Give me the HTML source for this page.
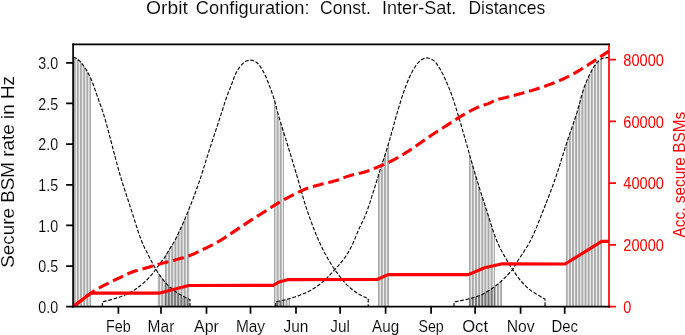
<!DOCTYPE html>
<html><head><meta charset="utf-8"><title>Orbit Configuration</title>
<style>html,body{margin:0;padding:0;background:#fff;}svg{display:block;will-change:transform;}</style>
</head><body>
<svg width="685" height="335" viewBox="0 0 685 335" font-family="'Liberation Sans', sans-serif" stroke-linejoin="round">
<rect width="685" height="335" fill="#fff"/>
<clipPath id="ax"><rect x="73.1" y="44.4" width="535.9" height="262.3"/></clipPath>
<g clip-path="url(#ax)">
<g fill="#000" fill-opacity="0.56" stroke="none">
<path d="M74.10,306.7V57.5h0.6V306.7zM75.57,306.7V58.1h0.6V306.7zM77.04,306.7V59.1h0.6V306.7zM78.50,306.7V60.2h0.6V306.7zM79.97,306.7V61.6h0.6V306.7zM81.44,306.7V63.4h0.6V306.7zM82.91,306.7V65.3h0.6V306.7zM84.38,306.7V67.3h0.6V306.7zM85.84,306.7V69.6h0.6V306.7zM87.31,306.7V72.1h0.6V306.7zM88.78,306.7V74.9h0.6V306.7zM90.25,306.7V78.0h0.6V306.7z"/>
<path d="M157.90,306.7V272.8h0.6V306.7zM159.37,306.7V275.0h0.6V306.7zM160.84,306.7V277.1h0.6V306.7zM162.30,306.7V279.1h0.6V306.7zM163.77,306.7V280.9h0.6V306.7zM165.24,306.7V282.6h0.6V306.7zM166.71,306.7V284.2h0.6V306.7zM168.18,306.7V285.6h0.6V306.7zM169.64,306.7V287.0h0.6V306.7zM171.11,306.7V288.3h0.6V306.7zM172.58,306.7V289.5h0.6V306.7zM174.05,306.7V290.6h0.6V306.7zM175.52,306.7V291.7h0.6V306.7zM176.98,306.7V292.7h0.6V306.7zM178.45,306.7V293.6h0.6V306.7zM179.92,306.7V294.5h0.6V306.7zM181.39,306.7V295.4h0.6V306.7zM182.86,306.7V296.2h0.6V306.7zM184.32,306.7V297.0h0.6V306.7zM185.79,306.7V297.8h0.6V306.7zM187.26,306.7V298.5h0.6V306.7zM188.73,306.7V299.2h0.6V306.7z"/>
<path d="M165.00,306.7V256.4h0.6V306.7zM166.47,306.7V254.0h0.6V306.7zM167.94,306.7V251.3h0.6V306.7zM169.40,306.7V248.8h0.6V306.7zM170.87,306.7V246.6h0.6V306.7zM172.34,306.7V244.3h0.6V306.7zM173.81,306.7V241.8h0.6V306.7zM175.28,306.7V239.1h0.6V306.7zM176.74,306.7V236.2h0.6V306.7zM178.21,306.7V233.2h0.6V306.7zM179.68,306.7V230.0h0.6V306.7zM181.15,306.7V226.8h0.6V306.7zM182.62,306.7V223.5h0.6V306.7zM184.08,306.7V220.1h0.6V306.7zM185.55,306.7V216.6h0.6V306.7zM187.02,306.7V213.1h0.6V306.7zM188.49,306.7V209.5h0.6V306.7z"/>
<path d="M274.20,306.7V100.3h0.6V306.7zM275.67,306.7V105.8h0.6V306.7zM277.14,306.7V111.6h0.6V306.7zM278.60,306.7V116.8h0.6V306.7zM280.07,306.7V121.7h0.6V306.7zM281.54,306.7V126.5h0.6V306.7zM283.01,306.7V131.2h0.6V306.7z"/>
<path d="M275.90,306.7V301.7h0.6V306.7zM277.37,306.7V301.5h0.6V306.7zM278.84,306.7V301.2h0.6V306.7zM280.30,306.7V300.8h0.6V306.7zM281.77,306.7V300.5h0.6V306.7zM283.24,306.7V300.2h0.6V306.7zM284.71,306.7V299.8h0.6V306.7zM286.18,306.7V299.4h0.6V306.7zM287.64,306.7V299.0h0.6V306.7zM289.11,306.7V298.6h0.6V306.7z"/>
<path d="M378.10,306.7V175.4h0.6V306.7zM379.57,306.7V170.7h0.6V306.7zM381.04,306.7V166.2h0.6V306.7zM382.50,306.7V161.7h0.6V306.7zM383.97,306.7V157.1h0.6V306.7zM385.44,306.7V152.5h0.6V306.7zM386.91,306.7V147.9h0.6V306.7zM388.38,306.7V143.1h0.6V306.7z"/>
<path d="M469.10,306.7V153.9h0.6V306.7zM470.57,306.7V159.1h0.6V306.7zM472.04,306.7V164.3h0.6V306.7zM473.50,306.7V169.4h0.6V306.7zM474.97,306.7V174.4h0.6V306.7zM476.44,306.7V179.3h0.6V306.7zM477.91,306.7V184.0h0.6V306.7zM479.38,306.7V188.7h0.6V306.7zM480.84,306.7V193.4h0.6V306.7zM482.31,306.7V197.9h0.6V306.7zM483.78,306.7V202.5h0.6V306.7zM485.25,306.7V207.0h0.6V306.7zM486.72,306.7V211.5h0.6V306.7zM488.18,306.7V216.2h0.6V306.7zM489.65,306.7V220.8h0.6V306.7zM491.12,306.7V225.5h0.6V306.7zM492.59,306.7V230.0h0.6V306.7zM494.06,306.7V234.3h0.6V306.7z"/>
<path d="M469.10,306.7V298.7h0.6V306.7zM470.57,306.7V298.4h0.6V306.7zM472.04,306.7V297.9h0.6V306.7zM473.50,306.7V297.5h0.6V306.7zM474.97,306.7V297.0h0.6V306.7zM476.44,306.7V296.5h0.6V306.7zM477.91,306.7V296.0h0.6V306.7zM479.38,306.7V295.4h0.6V306.7zM480.84,306.7V294.8h0.6V306.7zM482.31,306.7V294.1h0.6V306.7zM483.78,306.7V293.4h0.6V306.7zM485.25,306.7V292.6h0.6V306.7zM486.72,306.7V291.7h0.6V306.7zM488.18,306.7V290.8h0.6V306.7zM489.65,306.7V289.9h0.6V306.7zM491.12,306.7V288.9h0.6V306.7zM492.59,306.7V287.9h0.6V306.7zM494.06,306.7V286.8h0.6V306.7zM495.52,306.7V285.7h0.6V306.7zM496.99,306.7V284.6h0.6V306.7zM498.46,306.7V283.3h0.6V306.7zM499.93,306.7V282.1h0.6V306.7zM501.40,306.7V280.8h0.6V306.7z"/>
<path d="M566.10,306.7V143.8h0.6V306.7zM567.57,306.7V139.4h0.6V306.7zM569.04,306.7V135.1h0.6V306.7zM570.50,306.7V130.8h0.6V306.7zM571.97,306.7V126.6h0.6V306.7zM573.44,306.7V122.3h0.6V306.7zM574.91,306.7V117.9h0.6V306.7zM576.38,306.7V113.3h0.6V306.7zM577.84,306.7V108.5h0.6V306.7zM579.31,306.7V103.1h0.6V306.7zM580.78,306.7V97.6h0.6V306.7zM582.25,306.7V92.3h0.6V306.7zM583.72,306.7V87.8h0.6V306.7zM585.18,306.7V83.9h0.6V306.7zM586.65,306.7V80.3h0.6V306.7zM588.12,306.7V77.0h0.6V306.7zM589.59,306.7V74.0h0.6V306.7zM591.06,306.7V71.2h0.6V306.7zM592.52,306.7V68.5h0.6V306.7zM593.99,306.7V66.1h0.6V306.7zM595.46,306.7V64.1h0.6V306.7zM596.93,306.7V62.5h0.6V306.7zM598.40,306.7V60.9h0.6V306.7zM599.86,306.7V59.6h0.6V306.7zM601.33,306.7V58.7h0.6V306.7z"/>
</g>
<g stroke="#000" stroke-width="1.12" fill="none" stroke-dasharray="3.8 1.7">
<path d="M73.1,57.3L74.1,57.4L75.1,57.7L76.1,58.2L77.1,58.9L78.1,59.7L79.1,60.5L80.1,61.4L81.1,62.6L82.1,63.8L83.1,65.1L84.1,66.5L85.1,67.9L86.1,69.5L87.1,71.2L88.1,73.0L89.1,74.9L90.1,77.0L91.1,79.2L92.1,81.7L93.1,84.3L94.1,87.1L95.1,89.9L96.1,92.7L97.1,95.6L98.1,98.4L99.1,101.3L100.1,104.0L101.1,106.7L102.1,109.6L103.1,112.7L104.1,115.9L105.1,119.3L106.1,122.8L107.1,126.4L108.1,130.1L109.1,133.9L110.1,137.7L111.1,141.5L112.1,145.4L113.1,149.2L114.1,153.1L115.1,156.9L116.1,160.7L117.1,164.4L118.1,168.0L119.1,171.6L120.1,175.0L121.1,178.3L122.1,181.6L123.1,184.8L124.1,187.9L125.1,191.0L126.1,194.1L127.1,197.1L128.1,200.2L129.1,203.2L130.1,206.3L131.1,209.3L132.1,212.4L133.1,215.6L134.1,218.8L135.1,221.9L136.1,225.1L137.1,228.2L138.1,231.3L139.1,234.2L140.1,237.1L141.1,239.7L142.1,242.2L143.1,244.6L144.1,246.8L145.1,248.8L146.1,250.8L147.1,252.8L148.1,254.7L149.1,256.7L150.1,258.6L151.1,260.5L152.1,262.4L153.1,264.2L154.1,266.0L155.1,267.8L156.1,269.5L157.1,271.2L158.1,272.7L159.1,274.2L160.1,275.7L161.1,277.1L162.1,278.4L163.1,279.7L164.1,281.0L165.1,282.1L166.1,283.2L167.1,284.3L168.1,285.3L169.1,286.2L170.1,287.2L171.1,288.0L172.1,288.9L173.1,289.7L174.1,290.4L175.1,291.2L176.1,291.9L177.1,292.6L178.1,293.2L179.1,293.9L180.1,294.5L181.1,295.1L182.1,295.6L183.1,296.2L184.1,296.7L185.1,297.3L186.1,297.8L187.1,298.3L188.1,298.8L189.1,299.2L190.0,299.6L190.0,306.7"/>
<path d="M102.3,306.7L102.3,301.8L103.3,301.6L104.3,301.4L105.3,301.1L106.3,300.9L107.3,300.6L108.3,300.4L109.3,300.1L110.3,299.9L111.3,299.6L112.3,299.3L113.3,299.0L114.3,298.7L115.3,298.4L116.3,298.1L117.3,297.8L118.3,297.5L119.3,297.2L120.3,296.8L121.3,296.5L122.3,296.1L123.3,295.7L124.3,295.3L125.3,294.8L126.3,294.4L127.3,293.9L128.3,293.4L129.3,292.9L130.3,292.3L131.3,291.8L132.3,291.2L133.3,290.6L134.3,290.0L135.3,289.4L136.3,288.7L137.3,288.0L138.3,287.3L139.3,286.5L140.3,285.7L141.3,284.9L142.3,284.1L143.3,283.2L144.3,282.4L145.3,281.4L146.3,280.5L147.3,279.5L148.3,278.5L149.3,277.4L150.3,276.3L151.3,275.2L152.3,274.0L153.3,272.8L154.3,271.5L155.3,270.0L156.3,268.6L157.3,267.2L158.3,265.8L159.3,264.3L160.3,263.0L161.3,261.6L162.3,260.3L163.3,259.1L164.3,257.8L165.3,256.4L166.3,254.9L167.3,253.1L168.3,251.2L169.3,249.5L170.3,247.9L171.3,246.4L172.3,244.8L173.3,243.2L174.3,241.5L175.3,239.6L176.3,237.7L177.3,235.7L178.3,233.6L179.3,231.5L180.3,229.3L181.3,227.1L182.3,224.9L183.3,222.6L184.3,220.3L185.3,217.9L186.3,215.5L187.3,213.1L188.3,210.7L189.3,208.3L190.3,205.8L191.3,203.3L192.3,200.7L193.3,198.1L194.3,195.4L195.3,192.7L196.3,190.0L197.3,187.2L198.3,184.3L199.3,181.5L200.3,178.6L201.3,175.6L202.3,172.5L203.3,169.3L204.3,166.1L205.3,162.8L206.3,159.6L207.3,156.4L208.3,153.3L209.3,150.2L210.3,147.1L211.3,144.1L212.3,141.0L213.3,137.9L214.3,134.9L215.3,131.9L216.3,128.8L217.3,125.8L218.3,122.7L219.3,119.7L220.3,116.6L221.3,113.6L222.3,110.5L223.3,107.4L224.3,104.2L225.3,101.0L226.3,98.0L227.3,95.2L228.3,92.5L229.3,90.0L230.3,87.6L231.3,85.1L232.3,82.5L233.3,79.7L234.3,76.8L235.3,74.4L236.3,72.4L237.3,70.6L238.3,69.0L239.3,67.6L240.3,66.3L241.3,65.1L242.3,64.1L243.3,63.0L244.3,62.1L245.3,61.4L246.3,61.0L247.3,60.7L248.3,60.4L249.3,60.2L250.3,60.1L251.3,60.2L252.3,60.4L253.3,60.7L254.3,61.1L255.3,61.6L256.3,62.1L257.3,63.0L258.3,64.0L259.3,65.2L260.3,66.5L261.3,68.1L262.3,69.8L263.3,71.6L264.3,73.5L265.3,75.5L266.3,77.7L267.3,80.2L268.3,82.8L269.3,85.4L270.3,88.1L271.3,90.8L272.3,93.7L273.3,96.6L274.3,99.7L275.3,103.1L276.3,107.2L277.3,111.1L278.3,114.7L279.3,118.1L280.3,121.5L281.3,124.7L282.3,128.0L283.3,131.1L284.3,134.3L285.3,137.5L286.3,140.7L287.3,144.0L288.3,147.3L289.3,150.6L290.3,153.9L291.3,157.1L292.3,160.4L293.3,163.7L294.3,167.0L295.3,170.3L296.3,173.7L297.3,177.0L298.3,180.4L299.3,183.9L300.3,187.5L301.3,191.0L302.3,194.6L303.3,198.1L304.3,201.5L305.3,204.7L306.3,207.9L307.3,210.9L308.3,213.8L309.3,216.6L310.3,219.4L311.3,222.1L312.3,224.8L313.3,227.4L314.3,230.0L315.3,232.5L316.3,235.0L317.3,237.3L318.3,239.7L319.3,241.9L320.3,244.1L321.3,246.3L322.3,248.3L323.3,250.3L324.3,252.2L325.3,254.1L326.3,255.9L327.3,257.6L328.3,259.4L329.3,261.1L330.3,262.7L331.3,264.4L332.3,266.0L333.3,267.5L334.3,269.0L335.3,270.5L336.3,271.9L337.3,273.2L338.3,274.6L339.3,275.9L340.3,277.1L341.3,278.4L342.3,279.6L343.3,280.8L344.3,282.0L345.3,283.2L346.3,284.3L347.3,285.3L348.3,286.2L349.3,287.1L350.3,287.9L351.3,288.7L352.3,289.5L353.3,290.2L354.3,291.0L355.3,291.8L356.3,292.5L357.3,293.2L358.3,293.9L359.3,294.5L360.3,295.0L361.3,295.5L362.3,296.0L363.3,296.5L364.3,296.9L365.3,297.3L366.3,297.7L367.3,298.0L368.2,298.3L368.2,306.7"/>
<path d="M275.8,306.7L275.8,301.8L276.8,301.6L277.8,301.4L278.8,301.2L279.8,301.0L280.8,300.8L281.8,300.6L282.8,300.3L283.8,300.1L284.8,299.9L285.8,299.6L286.8,299.4L287.8,299.1L288.8,298.8L289.8,298.5L290.8,298.2L291.8,297.9L292.8,297.6L293.8,297.3L294.8,297.0L295.8,296.6L296.8,296.3L297.8,295.9L298.8,295.6L299.8,295.2L300.8,294.8L301.8,294.4L302.8,294.0L303.8,293.6L304.8,293.2L305.8,292.8L306.8,292.3L307.8,291.8L308.8,291.3L309.8,290.8L310.8,290.2L311.8,289.6L312.8,289.0L313.8,288.4L314.8,287.8L315.8,287.1L316.8,286.4L317.8,285.7L318.8,285.0L319.8,284.2L320.8,283.4L321.8,282.6L322.8,281.8L323.8,280.9L324.8,280.0L325.8,279.1L326.8,278.1L327.8,277.1L328.8,276.1L329.8,275.0L330.8,273.9L331.8,272.9L332.8,271.8L333.8,270.7L334.8,269.6L335.8,268.5L336.8,267.4L337.8,266.3L338.8,265.1L339.8,264.0L340.8,262.8L341.8,261.6L342.8,260.4L343.8,259.1L344.8,257.7L345.8,256.2L346.8,254.7L347.8,253.1L348.8,251.4L349.8,249.6L350.8,247.7L351.8,245.8L352.8,243.8L353.8,241.5L354.8,239.1L355.8,236.6L356.8,234.1L357.8,231.7L358.8,229.4L359.8,227.2L360.8,225.1L361.8,223.1L362.8,221.1L363.8,218.9L364.8,216.7L365.8,214.2L366.8,211.6L367.8,208.8L368.8,205.9L369.8,202.8L370.8,199.7L371.8,196.6L372.8,193.4L373.8,190.3L374.8,187.1L375.8,183.8L376.8,180.5L377.8,177.3L378.8,174.1L379.8,170.9L380.8,167.8L381.8,164.7L382.8,161.7L383.8,158.6L384.8,155.5L385.8,152.4L386.8,149.2L387.8,146.0L388.8,142.7L389.8,139.3L390.8,135.8L391.8,132.2L392.8,128.6L393.8,124.9L394.8,121.3L395.8,117.7L396.8,114.1L397.8,110.7L398.8,107.3L399.8,104.0L400.8,100.8L401.8,97.6L402.8,94.6L403.8,91.7L404.8,89.0L405.8,86.3L406.8,83.7L407.8,81.3L408.8,78.8L409.8,76.5L410.8,74.4L411.8,72.4L412.8,70.6L413.8,68.8L414.8,67.3L415.8,65.7L416.8,64.3L417.8,63.1L418.8,62.1L419.8,61.1L420.8,60.2L421.8,59.5L422.8,59.0L423.8,58.6L424.8,58.3L425.8,58.0L426.8,57.9L427.8,58.0L428.8,58.2L429.8,58.5L430.8,58.9L431.8,59.4L432.8,59.9L433.8,60.7L434.8,61.6L435.8,62.7L436.8,63.9L437.8,65.3L438.8,66.9L439.8,68.5L440.8,70.3L441.8,72.2L442.8,74.1L443.8,76.1L444.8,78.3L445.8,80.5L446.8,82.7L447.8,85.0L448.8,87.4L449.8,89.9L450.8,92.5L451.8,95.2L452.8,98.1L453.8,101.1L454.8,104.3L455.8,107.4L456.8,110.6L457.8,113.9L458.8,117.2L459.8,120.6L460.8,124.0L461.8,127.4L462.8,130.9L463.8,134.4L464.8,137.8L465.8,141.3L466.8,144.8L467.8,148.3L468.8,151.8L469.8,155.4L470.8,158.9L471.8,162.4L472.8,165.9L473.8,169.4L474.8,172.8L475.8,176.2L476.8,179.5L477.8,182.7L478.8,185.9L479.8,189.1L480.8,192.3L481.8,195.4L482.8,198.5L483.8,201.6L484.8,204.7L485.8,207.8L486.8,210.9L487.8,214.0L488.8,217.2L489.8,220.4L490.8,223.5L491.8,226.7L492.8,229.8L493.8,232.7L494.8,235.6L495.8,238.3L496.8,240.8L497.8,243.1L498.8,245.3L499.8,247.4L500.8,249.4L501.8,251.3L502.8,253.1L503.8,254.9L504.8,256.6L505.8,258.4L506.8,260.1L507.8,261.8L508.8,263.5L509.8,265.1L510.8,266.6L511.8,268.2L512.8,269.7L513.8,271.2L514.8,272.7L515.8,274.1L516.8,275.6L517.8,276.9L518.8,278.3L519.8,279.6L520.8,280.8L521.8,281.9L522.8,283.0L523.8,284.1L524.8,285.1L525.8,286.1L526.8,287.1L527.8,288.0L528.8,288.8L529.8,289.6L530.8,290.4L531.8,291.1L532.8,291.8L533.8,292.4L534.8,293.0L535.8,293.7L536.8,294.3L537.8,294.9L538.8,295.5L539.8,296.1L540.8,296.7L541.8,297.3L542.8,297.8L543.8,298.4L544.8,298.9L545.0,299.0L545.0,306.7"/>
<path d="M454.0,306.7L454.0,302.0L455.0,301.8L456.0,301.6L457.0,301.4L458.0,301.2L459.0,301.0L460.0,300.8L461.0,300.6L462.0,300.4L463.0,300.2L464.0,300.0L465.0,299.8L466.0,299.6L467.0,299.3L468.0,299.1L469.0,298.8L470.0,298.6L471.0,298.3L472.0,298.0L473.0,297.7L474.0,297.4L475.0,297.1L476.0,296.8L477.0,296.4L478.0,296.0L479.0,295.7L480.0,295.3L481.0,294.8L482.0,294.4L483.0,293.9L484.0,293.4L485.0,292.9L486.0,292.3L487.0,291.7L488.0,291.1L489.0,290.5L490.0,289.8L491.0,289.2L492.0,288.5L493.0,287.8L494.0,287.1L495.0,286.3L496.0,285.6L497.0,284.8L498.0,284.0L499.0,283.1L500.0,282.3L501.0,281.4L502.0,280.5L503.0,279.6L504.0,278.6L505.0,277.6L506.0,276.6L507.0,275.6L508.0,274.5L509.0,273.5L510.0,272.5L511.0,271.5L512.0,270.4L513.0,269.0L514.0,267.2L515.0,265.4L516.0,263.7L517.0,262.1L518.0,260.5L519.0,259.0L520.0,257.5L521.0,256.0L522.0,254.5L523.0,252.9L524.0,251.4L525.0,249.8L526.0,248.3L527.0,246.8L528.0,245.1L529.0,243.4L530.0,241.6L531.0,239.7L532.0,237.6L533.0,235.5L534.0,233.2L535.0,230.9L536.0,228.5L537.0,226.1L538.0,223.6L539.0,221.1L540.0,218.6L541.0,216.1L542.0,213.5L543.0,211.0L544.0,208.5L545.0,206.0L546.0,203.5L547.0,200.9L548.0,198.3L549.0,195.7L550.0,193.1L551.0,190.5L552.0,187.8L553.0,185.0L554.0,182.3L555.0,179.4L556.0,176.6L557.0,173.6L558.0,170.6L559.0,167.5L560.0,164.3L561.0,161.0L562.0,157.8L563.0,154.5L564.0,151.3L565.0,148.1L566.0,145.0L567.0,142.0L568.0,139.0L569.0,136.0L570.0,133.1L571.0,130.3L572.0,127.4L573.0,124.5L574.0,121.5L575.0,118.5L576.0,115.4L577.0,112.3L578.0,109.0L579.0,105.4L580.0,101.7L581.0,97.9L582.0,94.2L583.0,90.8L584.0,87.9L585.0,85.2L586.0,82.6L587.0,80.2L588.0,77.9L589.0,75.8L590.0,73.8L591.0,71.9L592.0,70.0L593.0,68.2L594.0,66.6L595.0,65.1L596.0,63.8L597.0,62.7L598.0,61.7L599.0,60.7L600.0,59.8L601.0,59.1L602.0,58.6L603.0,58.3L604.0,58.0L605.0,57.9L606.0,57.7L607.0,57.6L608.0,57.6L609.0,57.6"/>
</g>
<path d="M73.1,306.7L91.0,293.1L159.8,293.1L188.8,285.5L273.2,285.4L279.0,282.0L288.5,279.6L377.2,279.5L388.0,274.6L468.3,274.6L484.6,267.7L501.3,263.9L565.2,264.0L601.7,241.4L609.0,241.4" stroke="#ff0000" stroke-width="3.1" fill="none" stroke-linejoin="round"/>
<path d="M73.1,306.7L91.0,293.1L92.5,292.1L94.0,291.2L95.5,290.2L97.0,289.3L98.5,288.4L100.0,287.5L101.5,286.7L103.0,285.9L104.5,285.2L106.0,284.4L107.5,283.7L109.0,282.9L110.5,282.1L112.0,281.4L113.5,280.7L115.0,279.9L116.5,279.2L118.0,278.5L119.5,277.8L121.0,277.1L122.5,276.3L124.0,275.6L125.5,274.9L127.0,274.2L128.5,273.5L130.0,272.9L131.5,272.3L133.0,271.8L134.5,271.3L136.0,270.8L137.5,270.4L139.0,269.9L140.5,269.5L142.0,269.1L143.5,268.7L145.0,268.3L146.5,267.8L148.0,267.4L149.5,267.0L151.0,266.5L152.5,266.1L154.0,265.6L155.5,265.2L157.0,264.8L158.5,264.3L160.0,263.9L161.5,263.5L163.0,263.1L164.5,262.7L166.0,262.3L167.5,261.9L169.0,261.6L170.5,261.2L172.0,260.8L173.5,260.4L175.0,260.0L176.5,259.6L178.0,259.1L179.5,258.7L181.0,258.3L182.5,257.9L184.0,257.5L185.5,257.0L187.0,256.5L188.5,256.0L190.0,255.5L191.5,254.9L193.0,254.3L194.5,253.6L196.0,252.9L197.5,252.2L199.0,251.5L200.5,250.7L202.0,250.0L203.5,249.2L205.0,248.5L206.5,247.8L208.0,247.0L209.5,246.3L211.0,245.5L212.5,244.8L214.0,244.0L215.5,243.2L217.0,242.4L218.5,241.5L220.0,240.7L221.5,239.8L223.0,238.8L224.5,237.9L226.0,236.9L227.5,235.9L229.0,234.9L230.5,233.9L232.0,232.9L233.5,231.9L235.0,230.9L236.5,229.9L238.0,228.9L239.5,227.9L241.0,226.9L242.5,225.9L244.0,224.9L245.5,223.9L247.0,222.9L248.5,221.9L250.0,220.9L251.5,219.9L253.0,219.0L254.5,218.0L256.0,217.1L257.5,216.1L259.0,215.2L260.5,214.2L262.0,213.3L263.5,212.3L265.0,211.4L266.5,210.4L268.0,209.4L269.5,208.5L271.0,207.5L272.5,206.5L274.0,205.6L275.5,204.7L277.0,203.7L278.5,202.8L280.0,202.0L281.5,201.1L283.0,200.3L284.5,199.4L286.0,198.6L287.5,197.8L289.0,197.0L290.5,196.2L292.0,195.5L293.5,194.7L295.0,194.0L296.5,193.2L298.0,192.4L299.5,191.7L301.0,191.0L302.5,190.3L304.0,189.6L305.5,189.0L307.0,188.4L308.5,187.9L310.0,187.4L311.5,186.9L313.0,186.5L314.5,186.1L316.0,185.7L317.5,185.3L319.0,184.9L320.5,184.5L322.0,184.1L323.5,183.7L325.0,183.3L326.5,183.0L328.0,182.6L329.5,182.3L331.0,181.9L332.5,181.5L334.0,181.1L335.5,180.7L337.0,180.2L338.5,179.7L340.0,179.1L341.5,178.6L343.0,178.0L344.5,177.4L346.0,176.9L347.5,176.4L349.0,175.9L350.5,175.5L352.0,175.1L353.5,174.7L355.0,174.4L356.5,174.0L358.0,173.7L359.5,173.3L361.0,173.0L362.5,172.6L364.0,172.2L365.5,171.7L367.0,171.2L368.5,170.7L370.0,170.2L371.5,169.6L373.0,169.0L374.5,168.4L376.0,167.8L377.5,167.2L379.0,166.5L380.5,165.9L382.0,165.2L383.5,164.6L385.0,163.9L386.5,163.3L388.0,162.6L389.5,162.0L391.0,161.2L392.5,160.5L394.0,159.7L395.5,158.9L397.0,158.0L398.5,157.1L400.0,156.2L401.5,155.4L403.0,154.5L404.5,153.6L406.0,152.6L407.5,151.7L409.0,150.8L410.5,149.8L412.0,148.8L413.5,147.7L415.0,146.7L416.5,145.6L418.0,144.6L419.5,143.5L421.0,142.5L422.5,141.4L424.0,140.4L425.5,139.3L427.0,138.3L428.5,137.3L430.0,136.2L431.5,135.2L433.0,134.2L434.5,133.2L436.0,132.2L437.5,131.2L439.0,130.3L440.5,129.3L442.0,128.4L443.5,127.5L445.0,126.5L446.5,125.6L448.0,124.6L449.5,123.6L451.0,122.6L452.5,121.6L454.0,120.6L455.5,119.7L457.0,118.7L458.5,117.8L460.0,116.9L461.5,115.9L463.0,115.1L464.5,114.2L466.0,113.3L467.5,112.5L469.0,111.6L470.5,110.8L472.0,110.0L473.5,109.3L475.0,108.6L476.5,107.9L478.0,107.2L479.5,106.6L481.0,106.0L482.5,105.5L484.0,105.0L485.5,104.6L487.0,104.1L488.5,103.6L490.0,103.0L491.5,102.2L493.0,101.4L494.5,100.6L496.0,100.1L497.5,99.6L499.0,99.1L500.5,98.7L502.0,98.4L503.5,98.0L505.0,97.7L506.5,97.3L508.0,96.9L509.5,96.6L511.0,96.2L512.5,95.8L514.0,95.4L515.5,95.0L517.0,94.6L518.5,94.2L520.0,93.8L521.5,93.4L523.0,92.9L524.5,92.5L526.0,92.1L527.5,91.7L529.0,91.2L530.5,90.8L532.0,90.4L533.5,89.9L535.0,89.5L536.5,89.0L538.0,88.5L539.5,88.0L541.0,87.5L542.5,87.0L544.0,86.5L545.5,86.0L547.0,85.4L548.5,84.9L550.0,84.3L551.5,83.8L553.0,83.2L554.5,82.6L556.0,82.0L557.5,81.4L559.0,80.8L560.5,80.1L562.0,79.5L563.5,78.8L565.0,78.1L566.5,77.4L568.0,76.7L569.5,75.9L571.0,75.2L572.5,74.4L574.0,73.5L575.5,72.7L577.0,71.8L578.5,70.9L580.0,70.0L581.5,69.0L583.0,68.1L584.5,67.2L586.0,66.2L587.5,65.3L589.0,64.3L590.5,63.3L592.0,62.3L593.5,61.4L595.0,60.4L596.5,59.4L598.0,58.4L599.5,57.4L601.0,56.4L602.5,55.4L604.0,54.4L605.5,53.4L607.0,52.4L608.5,51.4L608.8,51.2" stroke="#ff0000" stroke-width="3.1" fill="none" stroke-dasharray="11.1 4.8" stroke-linejoin="round"/>
</g>
<g stroke="#ff0000" stroke-width="1.7" fill="none">
<path d="M609.0,307.55V43.55"/>
<path d="M609.0,306.7h6.949999999999999M609.0,244.9h6.949999999999999M609.0,183.2h6.949999999999999M609.0,121.4h6.949999999999999M609.0,59.7h6.949999999999999"/>
</g>
<g stroke="#000" stroke-width="1.7" fill="none">
<path d="M73.1,307.55V43.55"/>
<path d="M72.25,44.4H609.85"/>
<path d="M72.25,306.7H609.85"/>
<path d="M118.4,306.7v6.949999999999999M161.0,306.7v6.949999999999999M206.5,306.7v6.949999999999999M250.5,306.7v6.949999999999999M296.0,306.7v6.949999999999999M340.1,306.7v6.949999999999999M385.6,306.7v6.949999999999999M431.1,306.7v6.949999999999999M475.1,306.7v6.949999999999999M520.6,306.7v6.949999999999999M564.7,306.7v6.949999999999999"/>
<path d="M73.1,306.7h-6.949999999999999M73.1,266.1h-6.949999999999999M73.1,225.4h-6.949999999999999M73.1,184.8h-6.949999999999999M73.1,144.1h-6.949999999999999M73.1,103.4h-6.949999999999999M73.1,62.8h-6.949999999999999"/>
</g>
<g opacity="0.999">
<g font-size="15.8" fill="#000" text-anchor="middle" stroke="#fff" stroke-width="0.12">
<text x="118.4" y="332.4" textLength="24.8" lengthAdjust="spacingAndGlyphs">Feb</text>
<text x="161.0" y="332.4" textLength="26.8" lengthAdjust="spacingAndGlyphs">Mar</text>
<text x="206.5" y="332.4" textLength="24.8" lengthAdjust="spacingAndGlyphs">Apr</text>
<text x="250.5" y="332.4" textLength="29.2" lengthAdjust="spacingAndGlyphs">May</text>
<text x="296.0" y="332.4" textLength="24.9" lengthAdjust="spacingAndGlyphs">Jun</text>
<text x="340.1" y="332.4" textLength="19.6" lengthAdjust="spacingAndGlyphs">Jul</text>
<text x="385.6" y="332.4" textLength="27.1" lengthAdjust="spacingAndGlyphs">Aug</text>
<text x="431.1" y="332.4" textLength="25.3" lengthAdjust="spacingAndGlyphs">Sep</text>
<text x="475.1" y="332.4" textLength="25.8" lengthAdjust="spacingAndGlyphs">Oct</text>
<text x="520.6" y="332.4" textLength="27.9" lengthAdjust="spacingAndGlyphs">Nov</text>
<text x="564.7" y="332.4" textLength="26.5" lengthAdjust="spacingAndGlyphs">Dec</text>
</g>
<g font-size="15.8" fill="#000" text-anchor="end" stroke="#fff" stroke-width="0.12">
<text x="58.1" y="312.9" textLength="19.8" lengthAdjust="spacingAndGlyphs">0.0</text>
<text x="58.1" y="272.2" textLength="19.8" lengthAdjust="spacingAndGlyphs">0.5</text>
<text x="58.1" y="231.6" textLength="19.8" lengthAdjust="spacingAndGlyphs">1.0</text>
<text x="58.1" y="190.9" textLength="19.8" lengthAdjust="spacingAndGlyphs">1.5</text>
<text x="58.1" y="150.3" textLength="19.8" lengthAdjust="spacingAndGlyphs">2.0</text>
<text x="58.1" y="109.6" textLength="19.8" lengthAdjust="spacingAndGlyphs">2.5</text>
<text x="58.1" y="69.0" textLength="19.8" lengthAdjust="spacingAndGlyphs">3.0</text>
</g>
<g font-size="15.8" fill="#ff0000" text-anchor="start" stroke="#fff" stroke-width="0.0">
<text x="623.3" y="312.9" textLength="8.1" lengthAdjust="spacingAndGlyphs">0</text>
<text x="623.3" y="251.1" textLength="40.6" lengthAdjust="spacingAndGlyphs">20000</text>
<text x="623.3" y="189.4" textLength="40.6" lengthAdjust="spacingAndGlyphs">40000</text>
<text x="623.3" y="127.6" textLength="40.6" lengthAdjust="spacingAndGlyphs">60000</text>
<text x="623.3" y="65.9" textLength="40.6" lengthAdjust="spacingAndGlyphs">80000</text>
</g>
<g font-size="19.0" fill="#000" stroke="#fff" stroke-width="0.12">
<text x="146.0" y="13.6" textLength="41.8" lengthAdjust="spacingAndGlyphs">Orbit</text>
<text x="195.8" y="13.6" textLength="113.8" lengthAdjust="spacingAndGlyphs">Configuration:</text>
<text x="320.0" y="13.6" textLength="50.8" lengthAdjust="spacingAndGlyphs">Const.</text>
<text x="382.0" y="13.6" textLength="74.3" lengthAdjust="spacingAndGlyphs">Inter-Sat.</text>
<text x="468.4" y="13.6" textLength="76.8" lengthAdjust="spacingAndGlyphs">Distances</text>
</g>
<text transform="translate(14.2,267.8) rotate(-90)" font-size="19.0" fill="#000" stroke="#fff" stroke-width="0.12" textLength="191.8" lengthAdjust="spacingAndGlyphs">Secure BSM rate in Hz</text>
<text transform="translate(685.0,237.5) rotate(-90)" font-size="15.8" fill="#ff0000" stroke="#fff" stroke-width="0.0" textLength="125.7" lengthAdjust="spacingAndGlyphs">Acc. secure BSMs</text>
</g>
</svg>
</body></html>
